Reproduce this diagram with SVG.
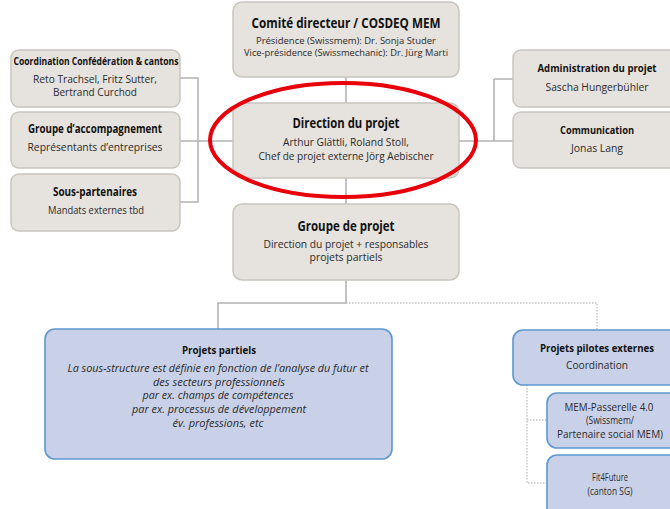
<svg xmlns="http://www.w3.org/2000/svg" width="670" height="509" viewBox="0 0 670 509">
<style>
.g{fill:#e6e2dd;stroke:#c9c5c0;stroke-width:1.5}
.b{fill:#c9d1e8;stroke:#5d98cf;stroke-width:1.6}
.c{fill:none;stroke:#b3b3b3;stroke-width:1.6}
.d{fill:none;stroke:#c4c4c4;stroke-width:1.4;stroke-dasharray:1.5 1.5}
text{font-family:"Open Sans","Liberation Sans",sans-serif;text-anchor:middle;fill:#2a2a2a}
.t{font-weight:bold;fill:#111}
.i{font-style:italic}
</style>
<rect width="670" height="509" fill="#ffffff"/>
<g id="connectors">
<path class="c" d="M346 77V103M346 178V204M180 78H198V202H180M180 141H233M459 141H494M494 79V141M494 79H513M494 141H513M346 280V303H218V329"/>
<path class="d" d="M346 303H597V330M527 385V483H547M527 420H547"/>
</g>
<g id="comite">
<rect class="g" x="233" y="2" width="226" height="75" rx="9"/>
<text class="t" x="346" y="28" font-size="14" textLength="189" lengthAdjust="spacingAndGlyphs">Comité directeur / COSDEQ MEM</text>
<text x="346" y="44" font-size="9" textLength="180" lengthAdjust="spacingAndGlyphs">Présidence (Swissmem):  Dr. Sonja Studer</text>
<text x="346" y="56" font-size="9" textLength="204" lengthAdjust="spacingAndGlyphs">Vice-présidence (Swissmechanic): Dr. Jürg Marti</text>
</g>
<g id="direction">
<rect class="g" x="233" y="103" width="226" height="75" rx="9"/>
<text class="t" x="346" y="128" font-size="13.5" textLength="107" lengthAdjust="spacingAndGlyphs">Direction du projet</text>
<text x="346" y="146" font-size="10.5" textLength="126" lengthAdjust="spacingAndGlyphs">Arthur Glättli, Roland Stoll,</text>
<text x="346" y="160" font-size="10.5" textLength="175" lengthAdjust="spacingAndGlyphs">Chef de projet externe Jörg Aebischer</text>
</g>
<g id="groupe-projet">
<rect class="g" x="233" y="204" width="226" height="76" rx="9"/>
<text class="t" x="346" y="231" font-size="14" textLength="97" lengthAdjust="spacingAndGlyphs">Groupe de projet</text>
<text x="346" y="248" font-size="10.5" textLength="165" lengthAdjust="spacingAndGlyphs">Direction du projet + responsables</text>
<text x="346" y="261" font-size="10.5" textLength="73" lengthAdjust="spacingAndGlyphs">projets partiels</text>
</g>
<g id="coordination">
<rect class="g" x="11" y="50" width="169" height="57" rx="8"/>
<text class="t" x="96" y="65" font-size="10" textLength="165" lengthAdjust="spacingAndGlyphs">Coordination Confédération &amp; cantons</text>
<text x="95" y="83" font-size="10" textLength="124" lengthAdjust="spacingAndGlyphs">Reto Trachsel, Fritz Sutter,</text>
<text x="95" y="96" font-size="10" textLength="84" lengthAdjust="spacingAndGlyphs">Bertrand Curchod</text>
</g>
<g id="accompagnement">
<rect class="g" x="11" y="112" width="169" height="56" rx="8"/>
<text class="t" x="95" y="133" font-size="11.5" textLength="134" lengthAdjust="spacingAndGlyphs">Groupe d’accompagnement</text>
<text x="95" y="151" font-size="10.5" textLength="135" lengthAdjust="spacingAndGlyphs">Représentants d’entreprises</text>
</g>
<g id="sous-partenaires">
<rect class="g" x="11" y="174" width="169" height="57" rx="8"/>
<text class="t" x="95" y="196" font-size="11.5" textLength="84" lengthAdjust="spacingAndGlyphs">Sous-partenaires</text>
<text x="96" y="214" font-size="10.5" textLength="96" lengthAdjust="spacingAndGlyphs">Mandats externes tbd</text>
</g>
<g id="administration">
<rect class="g" x="513" y="50" width="172" height="57" rx="8"/>
<text class="t" x="597" y="72" font-size="10.5" textLength="119" lengthAdjust="spacingAndGlyphs">Administration du projet</text>
<text x="597" y="91" font-size="10.5" textLength="103" lengthAdjust="spacingAndGlyphs">Sascha Hungerbühler</text>
</g>
<g id="communication">
<rect class="g" x="513" y="112" width="172" height="56" rx="8"/>
<text class="t" x="597" y="134" font-size="10.5" textLength="74" lengthAdjust="spacingAndGlyphs">Communication</text>
<text x="597" y="152" font-size="10.5" textLength="52" lengthAdjust="spacingAndGlyphs">Jonas Lang</text>
</g>
<g id="projets-partiels">
<rect class="b" x="45" y="329" width="347" height="130" rx="10"/>
<text class="t" x="219" y="354" font-size="10.5" textLength="74" lengthAdjust="spacingAndGlyphs">Projets partiels</text>
<text class="i" x="218" y="372" font-size="10.5" textLength="301" lengthAdjust="spacingAndGlyphs">La sous-structure est définie en fonction de l’analyse du futur et</text>
<text class="i" x="219" y="386" font-size="10.5" textLength="132" lengthAdjust="spacingAndGlyphs">des secteurs professionnels</text>
<text class="i" x="218" y="399" font-size="10.5" textLength="151" lengthAdjust="spacingAndGlyphs">par ex. champs de compétences</text>
<text class="i" x="219" y="413" font-size="10.5" textLength="174" lengthAdjust="spacingAndGlyphs">par ex. processus de développement</text>
<text class="i" x="218" y="427" font-size="10.5" textLength="91" lengthAdjust="spacingAndGlyphs">év. professions, etc</text>
</g>
<g id="projets-pilotes">
<rect class="b" x="513" y="330" width="172" height="55" rx="10"/>
<text class="t" x="597" y="352" font-size="10.5" textLength="114" lengthAdjust="spacingAndGlyphs">Projets pilotes externes</text>
<text x="597" y="369" font-size="10.5" textLength="62" lengthAdjust="spacingAndGlyphs">Coordination</text>
</g>
<g id="mem-passerelle">
<rect class="b" x="547" y="393" width="135" height="55" rx="10"/>
<text x="609" y="411" font-size="10.5" textLength="89" lengthAdjust="spacingAndGlyphs">MEM-Passerelle 4.0</text>
<text x="610" y="424" font-size="10.5" textLength="48" lengthAdjust="spacingAndGlyphs">(Swissmem/</text>
<text x="610" y="438" font-size="10.5" textLength="106" lengthAdjust="spacingAndGlyphs">Partenaire social MEM)</text>
</g>
<g id="fit4future">
<rect class="b" x="547" y="455" width="135" height="70" rx="10"/>
<text x="610" y="481" font-size="10" textLength="36" lengthAdjust="spacingAndGlyphs">Fit4Future</text>
<text x="610" y="495" font-size="10" textLength="45" lengthAdjust="spacingAndGlyphs">(canton SG)</text>
</g>
<g id="highlight">
<ellipse cx="343" cy="140" rx="133" ry="57" fill="none" stroke="#e8000b" stroke-width="4"/>
</g>
</svg>
